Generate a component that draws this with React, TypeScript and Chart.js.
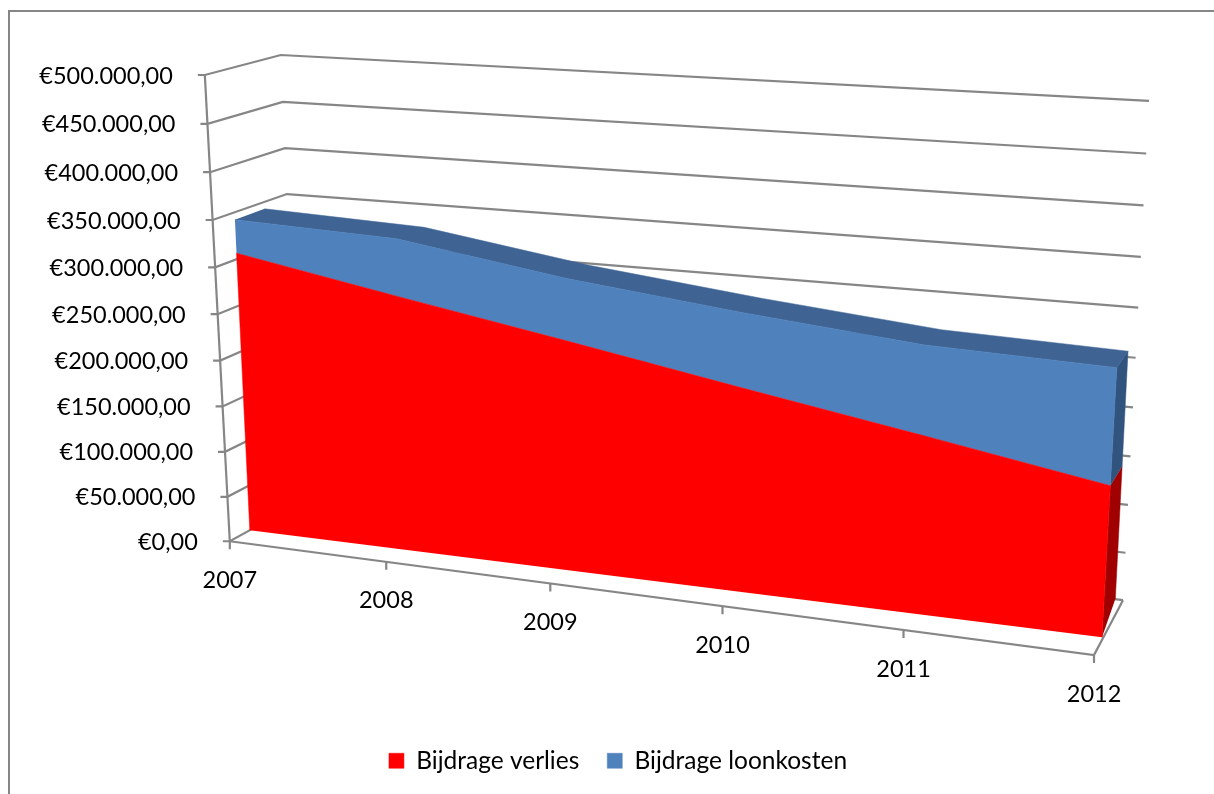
import React, { useEffect, useRef } from "react";
import { Chart, registerables } from "chart.js";

Chart.register(...registerables);

const years = ["2007", "2008", "2009", "2010", "2011", "2012"];
const verlies = [308000, 277000, 247000, 216000, 186000, 155000];
const loonkosten = [36000, 61000, 65000, 77000, 91000, 117000];
const yTicks = [0, 50000, 100000, 150000, 200000, 250000, 300000, 350000, 400000, 450000, 500000];
const yMax = 500000;
const legendNames = ["Bijdrage verlies", "Bijdrage loonkosten"];

type P = { x: number; y: number };
type Quad = [number, number, number, number, number, number, number, number];

// Perspective planes: screen corners of (u,v) = (0,0), (1,0), (1,1), (0,1)
function planeMap(q: Quad) {
  const [x0, y0, x1, y1, x2, y2, x3, y3] = q;
  const dx1 = x1 - x2, dx2 = x3 - x2, sx = x0 - x1 + x2 - x3;
  const dy1 = y1 - y2, dy2 = y3 - y2, sy = y0 - y1 + y2 - y3;
  const den = dx1 * dy2 - dx2 * dy1;
  const g = (sx * dy2 - dx2 * sy) / den;
  const h = (dx1 * sy - sx * dy1) / den;
  const a = x1 - x0 + g * x1, b = x3 - x0 + h * x3;
  const d = y1 - y0 + g * y1, e = y3 - y0 + h * y3;
  return (u: number, v: number): P => {
    const w = g * u + h * v + 1;
    return { x: (a * u + b * v + x0) / w, y: (d * u + e * v + y0) / w };
  };
}

const axisFront = planeMap([230, 541, 1095, 655, 1119, 130, 205, 74]);
const axisBack = planeMap([301, 502, 1124, 600, 1150, 100, 281, 54]);
const seriesFront = planeMap([250, 530, 1103, 637, 1131, 127, 228, 70]);
const seriesBack = planeMap([277, 515, 1115.5, 615, 1141, 117, 259, 62]);

const uAt = (i: number) => i / (years.length - 1);
const totals = verlies.map((v, i) => v + loonkosten[i]);
const last = years.length - 1;

const GRID = "#868686";
const tickStub = 7;
const sideFloorLift = 17000;

const poly = (data: P[], color: string) => ({
  data,
  showLine: true,
  fill: "shape" as const,
  backgroundColor: color,
  borderColor: color,
  borderWidth: 0.5,
  pointRadius: 0,
  clip: false as const,
});
const line = (data: P[]) => ({
  data,
  showLine: true,
  fill: false,
  borderColor: GRID,
  backgroundColor: GRID,
  borderWidth: 2.2,
  pointRadius: 0,
  clip: false as const,
});

const front = (i: number, val: number) => seriesFront(uAt(i), val / yMax);
const back = (i: number, val: number) => seriesBack(uAt(i), val / yMax);

function buildDatasets() {
  const red = {
    ...poly(
      [front(0, 0), ...verlies.map((v, i) => front(i, v)), front(last, 0)],
      "#ff0000",
    ),
    label: legendNames[0],
  };
  const blue = {
    ...poly(
      [...verlies.map((v, i) => front(i, v)), ...totals.map((v, i) => front(i, v)).reverse()],
      "#4f81bd",
    ),
    label: legendNames[1],
  };
  const top = poly(
    [...totals.map((v, i) => front(i, v)), ...totals.map((v, i) => back(i, v)).reverse()],
    "#3f6494",
  );
  const blueSide = poly(
    [front(last, verlies[last]), front(last, totals[last]), back(last, totals[last]), back(last, verlies[last])],
    "#31547f",
  );
  const redSide = poly(
    [front(last, 0), front(last, verlies[last]), back(last, verlies[last]), back(last, sideFloorLift)],
    "#a00000",
  );
  const grids = yTicks.map((t) => {
    const v = t / yMax;
    const f = axisFront(0, v);
    return line([{ x: f.x - tickStub, y: f.y }, f, axisBack(0, v), axisBack(1, v)]);
  });
  const yAxisLine = line([axisFront(0, 0), axisFront(0, 1)]);
  const floorFront = line([axisFront(0, 0), axisFront(1, 0), axisBack(1, 0)]);
  const xTicks = years.map((_, i) => {
    const p = axisFront(uAt(i), 0);
    return line([p, { x: p.x, y: p.y + 8 }]);
  });
  // Lower index is painted on top in Chart.js
  return [red, blue, top, blueSide, redSide, yAxisLine, floorFront, ...xTicks, ...grids];
}

const FONT = "Lato, Carlito, Calibri, sans-serif";
const euro = (n: number) =>
  "€" + n.toLocaleString("de-DE", { minimumFractionDigits: 2, maximumFractionDigits: 2 });

const axisText = {
  id: "axisText",
  afterDraw(chart: any) {
    const { ctx, scales } = chart;
    ctx.save();
    ctx.font = `23.5px ${FONT}`;
    ctx.fillStyle = "#000";
    ctx.textBaseline = "middle";
    ctx.textAlign = "right";
    yTicks.forEach((t) => {
      const p = axisFront(0, t / yMax);
      ctx.fillText(
        euro(t),
        scales.x.getPixelForValue(p.x - tickStub - 25),
        scales.y.getPixelForValue(p.y + 1),
      );
    });
    ctx.textAlign = "center";
    years.forEach((yr, i) => {
      const p = axisFront(uAt(i), 0);
      ctx.fillText(yr, scales.x.getPixelForValue(p.x), scales.y.getPixelForValue(p.y + 39));
    });
    ctx.restore();
  },
};

export default function App() {
  const ref = useRef<HTMLCanvasElement>(null);
  useEffect(() => {
    const chart = new Chart(ref.current as HTMLCanvasElement, {
      type: "scatter",
      data: { datasets: buildDatasets() as any },
      plugins: [axisText],
      options: {
        animation: false,
        responsive: false,
        layout: { padding: { left: 22, bottom: 11 } },
        scales: {
          x: { type: "linear", display: false, min: 22, max: 1214 },
          y: { type: "linear", display: false, min: 0, max: 730, reverse: true },
        },
        plugins: {
          tooltip: { enabled: false },
          legend: {
            position: "bottom",
            labels: {
              filter: (item: any) => !!item.text,
              boxWidth: 15,
              boxHeight: 15,
              padding: 28,
              color: "#000",
              font: { family: FONT, size: 24.5 },
            },
          },
        },
      },
    } as any);
    (chart.options.scales as any).y.max = chart.chartArea.bottom;
    chart.update();
    return () => chart.destroy();
  }, []);
  return (
    <div style={{ position: "fixed", left: 0, top: 0, width: 1214, height: 794, background: "#fff" }}>
      <canvas ref={ref} width={1214} height={794} style={{ position: "absolute", left: 0, top: 0 }} />
      <div
        style={{
          position: "absolute",
          left: 8,
          top: 10,
          right: 0,
          bottom: 0,
          borderLeft: "2px solid #868686",
          borderTop: "2px solid #868686",
          pointerEvents: "none",
        }}
      />
    </div>
  );
}
